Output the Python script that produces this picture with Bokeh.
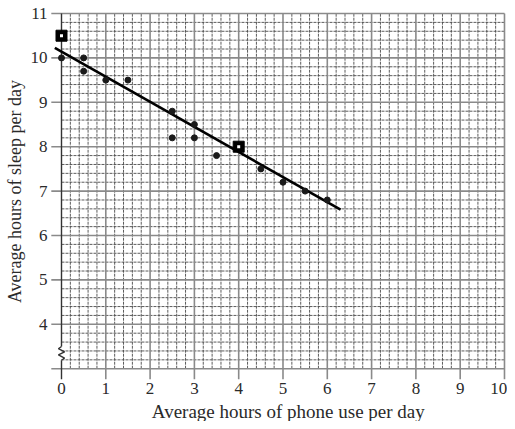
import numpy as np
from bokeh.plotting import figure
from bokeh.models import Range1d
from bokeh.core.properties import value
from bokeh.embed import file_html
from bokeh.resources import INLINE

# ---- data ----
phone_hours = [0, 0.5, 0.5, 1, 1.5, 2.5, 2.5, 3, 3, 3.5, 4.5, 5, 5.5, 6]
sleep_hours = [10, 10, 9.7, 9.5, 9.5, 8.8, 8.2, 8.5, 8.2, 7.8, 7.5, 7.2, 7.0, 6.8]
marked_phone = [0, 4]
marked_sleep = [10.5, 8.0]
fit_intercept = 10.14
fit_slope = -0.565
fit_x = [-0.15, 6.3]
x_ticks = list(range(0, 11))
y_ticks = list(range(4, 12))
x_label = "Average hours of phone use per day"
y_label = "Average hours of sleep per day"

FONT = value("Liberation Serif")
TXT = "#2a2a2a"

# The frame covers the whole canvas; 1 unit ~ 44.3 px horizontally, 44.4 px vertically.
p = figure(width=507, height=421, output_backend="svg", toolbar_location=None,
           x_axis_type=None, y_axis_type=None,
           x_range=Range1d(-1.377, 10.068), y_range=Range1d(1.811, 11.293),
           min_border=0)
p.outline_line_color = None
p.background_fill_color = "white"
p.border_fill_color = "white"

# ---- grid paper ----
x_lo, x_hi = 0, 10
y_lo, y_hi = 3, 11
minor_x = [v for v in np.round(np.arange(x_lo, x_hi + 0.001, 0.2), 2) if abs(v - round(v)) > 1e-6]
minor_y = [v for v in np.round(np.arange(y_lo, y_hi + 0.001, 0.2), 2) if abs(v - round(v)) > 1e-6]
p.segment(x0=minor_x, y0=[y_lo] * len(minor_x), x1=minor_x, y1=[y_hi] * len(minor_x),
          line_color="#4a4a4a", line_width=1, line_dash="3 1", line_alpha=0.9)
p.segment(x0=[x_lo] * len(minor_y), y0=minor_y, x1=[x_hi] * len(minor_y), y1=minor_y,
          line_color="#4a4a4a", line_width=1, line_dash="3 1", line_alpha=0.9)

major_x = list(range(1, 11))
major_y = list(range(3, 12))
p.segment(x0=major_x, y0=[2.76] * len(major_x), x1=major_x, y1=[y_hi] * len(major_x),
          line_color="#8a8a8a", line_width=1.6)
p.segment(x0=[-0.23] * len(major_y), y0=major_y, x1=[x_hi] * len(major_y), y1=major_y,
          line_color="#8a8a8a", line_width=1.6)

# y axis line at x=0 with break symbol
p.line(x=[0, 0], y=[y_hi, 3.50], line_color="#333333", line_width=1.4)
p.line(x=[0, -0.07, 0.07, -0.07, 0.07, 0], y=[3.50, 3.45, 3.38, 3.31, 3.24, 3.19],
       line_color="#333333", line_width=1.4)
p.line(x=[0, 0], y=[3.19, 2.76], line_color="#333333", line_width=1.4)

# ---- fit line ----
fit_y = [fit_intercept + fit_slope * v for v in fit_x]
p.line(x=fit_x, y=fit_y, line_color="black", line_width=2.6)

# ---- points ----
p.scatter(x=phone_hours, y=sleep_hours, size=6, marker="circle",
          fill_color="#1a1a1a", line_color="#1a1a1a")
p.scatter(x=marked_phone, y=marked_sleep, size=11, marker="square",
          fill_color="black", line_color="black")
p.scatter(x=marked_phone, y=marked_sleep, size=3, marker="square",
          fill_color="white", line_color=None)

# ---- tick labels ----
xl = [str(t) for t in x_ticks]
p.text(x=x_ticks[:-1], y=[2.543] * (len(x_ticks) - 1), text=xl[:-1],
       text_font=FONT, text_font_size="17px", text_color=TXT,
       text_align="center", text_baseline="middle")
p.text(x=[10.062], y=[2.543], text=xl[-1:],
       text_font=FONT, text_font_size="17px", text_color=TXT,
       text_align="right", text_baseline="middle")
p.text(x=[-0.316] * len(y_ticks), y=y_ticks, text=[str(t) for t in y_ticks],
       text_font=FONT, text_font_size="17px", text_color=TXT,
       text_align="right", text_baseline="middle")

# ---- axis titles ----
p.text(x=[5.12], y=[2.036], text=[x_label], text_font=FONT, text_font_size="19px",
       text_color=TXT, text_align="center", text_baseline="middle")
p.text(x=[-1.05], y=[6.99], text=[y_label], text_font=FONT, text_font_size="18px",
       text_color=TXT, text_align="center", text_baseline="middle", angle=np.pi / 2)

open("out.html", "w").write(file_html(p, INLINE))
